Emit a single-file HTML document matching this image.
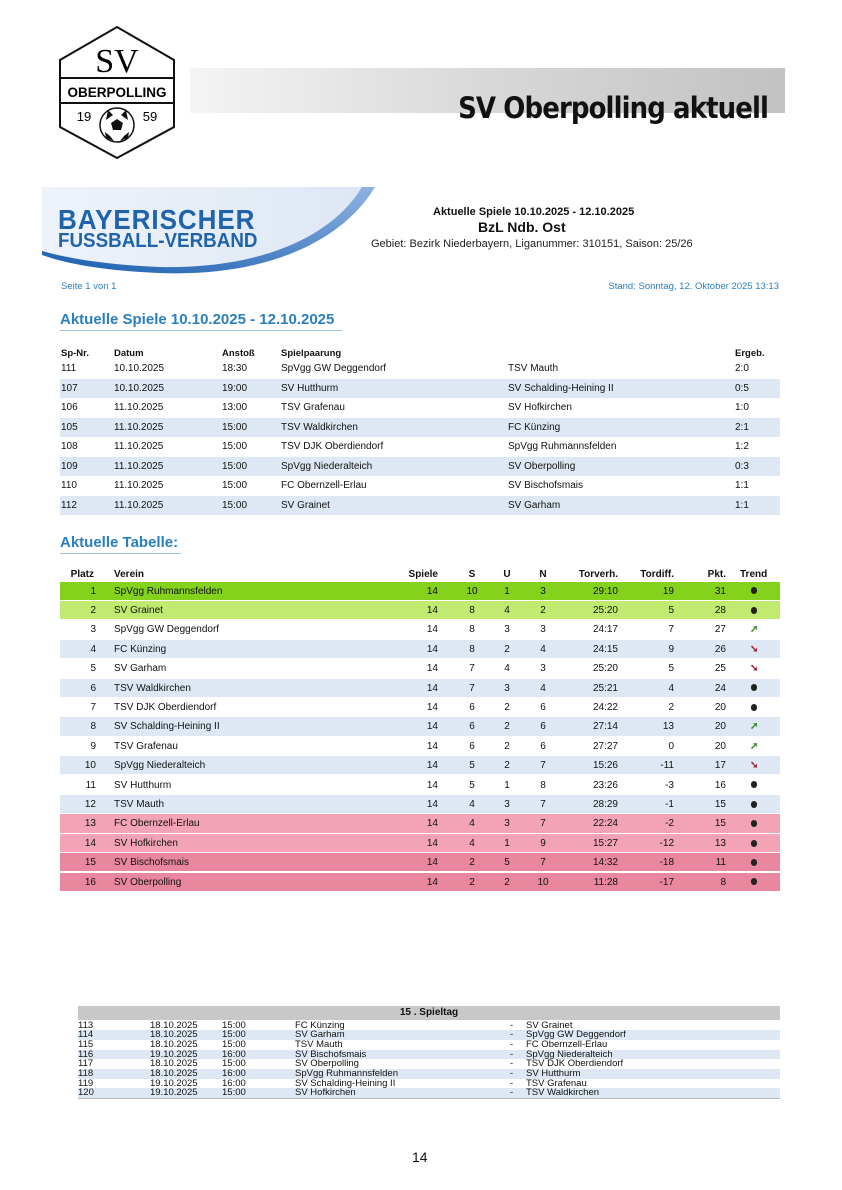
<!DOCTYPE html>
<html><head><meta charset="utf-8"><style>
*{margin:0;padding:0;box-sizing:border-box}
body{width:842px;height:1190px;background:#fff;font-family:"Liberation Sans",Arial,sans-serif;position:relative;overflow:hidden;color:#111}
.a{position:absolute;white-space:nowrap}
.r{position:absolute;left:60px;width:720px;font-size:10px;line-height:19px;height:19px}
.r span{position:absolute;top:0}
.s{background:#dde8f4}
.h{font-weight:bold;font-size:9.5px}
.t{position:absolute;left:60px;width:720px;font-size:10px;line-height:19.4px;height:19.4px;border-bottom:1px solid #fff}
.t span{position:absolute;top:0}
.p{right:684px;text-align:right}.v{left:54px}.sp{right:342px}.su{left:404px;width:16px;text-align:center}.uu{left:439px;width:16px;text-align:center}.nn{left:474px;width:18px;text-align:center}
.tv{right:162px}.td{right:106px}.pk{right:54px}.tr{left:690px;width:8px;text-align:center}
.dot{display:inline-block;width:6px;height:7px;border-radius:3px;background:#222;vertical-align:middle}
.up{color:#3a8a2a;font-weight:bold;font-size:10px}.dn{color:#a0202a;font-weight:bold;font-size:10px}
.b{position:absolute;left:78px;width:702px;font-size:9.5px;line-height:9.7px;height:9.7px}
.b span{position:absolute;top:0}
.bs{background:#dde8f4}
</style></head><body>
<svg class="a" style="left:56px;top:24px" width="122" height="136" viewBox="0 0 122 136">
<polygon points="61,3 118,36 118,103 61,134 4,103 4,36" fill="#fff" stroke="#111" stroke-width="2"/>
<line x1="4" y1="54" x2="118" y2="54" stroke="#111" stroke-width="2"/>
<line x1="4" y1="79" x2="118" y2="79" stroke="#111" stroke-width="2"/>
<text x="61" y="48" font-family="Liberation Serif" font-size="34" text-anchor="middle">SV</text>
<text x="61" y="73" font-family="Liberation Sans" font-weight="bold" font-size="13.5" text-anchor="middle">OBERPOLLING</text>
<text x="28" y="97" font-family="Liberation Sans" font-size="13" text-anchor="middle">19</text>
<text x="94" y="97" font-family="Liberation Sans" font-size="13" text-anchor="middle">59</text>
<circle cx="61" cy="101" r="17" fill="#fff" stroke="#111" stroke-width="1.5"/>
<polygon points="61,95 67,99 65,106 57,106 55,99" fill="#111"/>
<path d="M52,86 L57,91 L50,96Z M70,86 L65,91 L72,96Z M49,108 L54,112 L58,117 L50,114Z M73,108 L68,112 L64,117 L72,114Z" fill="#111"/>
</svg>
<div class="a" style="left:190px;top:68px;width:595px;height:45px;background:linear-gradient(90deg,#f4f4f4,#d8d8d8 50%,#c2c2c2)"></div>
<div class="a" style="right:74px;top:92px;font-family:'DejaVu Sans',sans-serif;font-size:26px;font-weight:bold;letter-spacing:-0.9px;color:#111;transform:scaleY(1.12);transform-origin:right top">SV Oberpolling aktuell</div>
<svg class="a" style="left:40px;top:185px" width="340" height="100" viewBox="0 0 340 100">
<defs><linearGradient id="g" x1="0" y1="0" x2="1" y2="0"><stop offset="0" stop-color="#eef3fa"/><stop offset="1" stop-color="#dde7f4"/></linearGradient>
<linearGradient id="g2" x1="0" y1="1" x2="1" y2="0"><stop offset="0" stop-color="#1a5fb0"/><stop offset="1" stop-color="#8fb3e0"/></linearGradient></defs>
<path d="M2,2 L335,2 C300,60 220,92 120,88 C70,86 30,80 2,70Z" fill="url(#g)"/>
<path d="M2,70 C30,80 70,86 120,88 C220,92 300,60 335,2 L322,2 C290,55 215,84 120,82 C70,80 30,74 2,66Z" fill="url(#g2)"/>
</svg>
<div class="a" style="left:58px;top:204px;font-size:28px;font-weight:bold;color:#1f63ad;letter-spacing:1px;transform:scaleX(0.93);transform-origin:left">BAYERISCHER</div>
<div class="a" style="left:58px;top:230px;font-size:20px;font-weight:bold;color:#1f63ad;transform:scaleX(0.94);transform-origin:left">FUSSBALL-VERBAND</div>
<div class="a" style="left:433px;top:206px;font-size:11px;font-weight:bold">Aktuelle Spiele 10.10.2025 - 12.10.2025</div>
<div class="a" style="left:478px;top:219px;font-size:14px;font-weight:bold">BzL Ndb. Ost</div>
<div class="a" style="left:371px;top:238px;font-size:11px;color:#222">Gebiet: Bezirk Niederbayern, Liganummer: 310151, Saison: 25/26</div>
<div class="a" style="left:61px;top:281px;font-size:9.5px;color:#2a7fc0">Seite 1 von 1</div>
<div class="a" style="right:63px;top:281px;font-size:9.5px;color:#2a7fc0">Stand: Sonntag, 12. Oktober 2025 13:13</div>
<div class="a" style="left:60px;top:311px;font-size:15px;font-weight:bold;color:#2a7fc0">Aktuelle Spiele 10.10.2025 - 12.10.2025</div>
<div class="a" style="left:60px;top:330px;width:282px;border-top:1px solid #9cc0e0"></div>

<div class="r h" style="top:344px"><span style="left:1px">Sp-Nr.</span><span style="left:54px">Datum</span><span style="left:162px">Anstoß</span><span style="left:221px">Spielpaarung</span><span style="left:675px">Ergeb.</span></div>
<div class="r" style="top:359px"><span style="left:1px">111</span><span style="left:54px">10.10.2025</span><span style="left:162px">18:30</span><span style="left:221px">SpVgg GW Deggendorf</span><span style="left:448px">TSV Mauth</span><span style="left:675px">2:0</span></div>
<div class="r s" style="top:378.5px"><span style="left:1px">107</span><span style="left:54px">10.10.2025</span><span style="left:162px">19:00</span><span style="left:221px">SV Hutthurm</span><span style="left:448px">SV Schalding-Heining II</span><span style="left:675px">0:5</span></div>
<div class="r" style="top:398px"><span style="left:1px">106</span><span style="left:54px">11.10.2025</span><span style="left:162px">13:00</span><span style="left:221px">TSV Grafenau</span><span style="left:448px">SV Hofkirchen</span><span style="left:675px">1:0</span></div>
<div class="r s" style="top:417.5px"><span style="left:1px">105</span><span style="left:54px">11.10.2025</span><span style="left:162px">15:00</span><span style="left:221px">TSV Waldkirchen</span><span style="left:448px">FC Künzing</span><span style="left:675px">2:1</span></div>
<div class="r" style="top:437px"><span style="left:1px">108</span><span style="left:54px">11.10.2025</span><span style="left:162px">15:00</span><span style="left:221px">TSV DJK Oberdiendorf</span><span style="left:448px">SpVgg Ruhmannsfelden</span><span style="left:675px">1:2</span></div>
<div class="r s" style="top:456.5px"><span style="left:1px">109</span><span style="left:54px">11.10.2025</span><span style="left:162px">15:00</span><span style="left:221px">SpVgg Niederalteich</span><span style="left:448px">SV Oberpolling</span><span style="left:675px">0:3</span></div>
<div class="r" style="top:476px"><span style="left:1px">110</span><span style="left:54px">11.10.2025</span><span style="left:162px">15:00</span><span style="left:221px">FC Obernzell-Erlau</span><span style="left:448px">SV Bischofsmais</span><span style="left:675px">1:1</span></div>
<div class="r s" style="top:495.5px"><span style="left:1px">112</span><span style="left:54px">11.10.2025</span><span style="left:162px">15:00</span><span style="left:221px">SV Grainet</span><span style="left:448px">SV Garham</span><span style="left:675px">1:1</span></div>

<div class="a" style="left:60px;top:534px;font-size:15px;font-weight:bold;color:#2a7fc0">Aktuelle Tabelle:</div>
<div class="a" style="left:60px;top:553px;width:121px;border-top:1px solid #9cc0e0"></div>

<div class="t h" style="top:565px"><span class="p" style="right:686px">Platz</span><span class="v">Verein</span><span class="sp">Spiele</span><span class="su">S</span><span class="uu">U</span><span class="nn">N</span><span class="tv">Torverh.</span><span class="td">Tordiff.</span><span class="pk">Pkt.</span><span style="left:680px">Trend</span></div>
<div class="t" style="top:581.5px;background:#84d21c"><span class="p">1</span><span class="v">SpVgg Ruhmannsfelden</span><span class="sp">14</span><span class="su">10</span><span class="uu">1</span><span class="nn">3</span><span class="tv">29:10</span><span class="td">19</span><span class="pk">31</span><span class="tr"><i class="dot"></i></span></div>
<div class="t" style="top:600.9px;background:#c0ea70"><span class="p">2</span><span class="v">SV Grainet</span><span class="sp">14</span><span class="su">8</span><span class="uu">4</span><span class="nn">2</span><span class="tv">25:20</span><span class="td">5</span><span class="pk">28</span><span class="tr"><i class="dot"></i></span></div>
<div class="t" style="top:620.3px"><span class="p">3</span><span class="v">SpVgg GW Deggendorf</span><span class="sp">14</span><span class="su">8</span><span class="uu">3</span><span class="nn">3</span><span class="tv">24:17</span><span class="td">7</span><span class="pk">27</span><span class="tr up">➚</span></div>
<div class="t s" style="top:639.7px"><span class="p">4</span><span class="v">FC Künzing</span><span class="sp">14</span><span class="su">8</span><span class="uu">2</span><span class="nn">4</span><span class="tv">24:15</span><span class="td">9</span><span class="pk">26</span><span class="tr dn">➘</span></div>
<div class="t" style="top:659.1px"><span class="p">5</span><span class="v">SV Garham</span><span class="sp">14</span><span class="su">7</span><span class="uu">4</span><span class="nn">3</span><span class="tv">25:20</span><span class="td">5</span><span class="pk">25</span><span class="tr dn">➘</span></div>
<div class="t s" style="top:678.5px"><span class="p">6</span><span class="v">TSV Waldkirchen</span><span class="sp">14</span><span class="su">7</span><span class="uu">3</span><span class="nn">4</span><span class="tv">25:21</span><span class="td">4</span><span class="pk">24</span><span class="tr"><i class="dot"></i></span></div>
<div class="t" style="top:697.9px"><span class="p">7</span><span class="v">TSV DJK Oberdiendorf</span><span class="sp">14</span><span class="su">6</span><span class="uu">2</span><span class="nn">6</span><span class="tv">24:22</span><span class="td">2</span><span class="pk">20</span><span class="tr"><i class="dot"></i></span></div>
<div class="t s" style="top:717.3px"><span class="p">8</span><span class="v">SV Schalding-Heining II</span><span class="sp">14</span><span class="su">6</span><span class="uu">2</span><span class="nn">6</span><span class="tv">27:14</span><span class="td">13</span><span class="pk">20</span><span class="tr up">➚</span></div>
<div class="t" style="top:736.7px"><span class="p">9</span><span class="v">TSV Grafenau</span><span class="sp">14</span><span class="su">6</span><span class="uu">2</span><span class="nn">6</span><span class="tv">27:27</span><span class="td">0</span><span class="pk">20</span><span class="tr up">➚</span></div>
<div class="t s" style="top:756.1px"><span class="p">10</span><span class="v">SpVgg Niederalteich</span><span class="sp">14</span><span class="su">5</span><span class="uu">2</span><span class="nn">7</span><span class="tv">15:26</span><span class="td">-11</span><span class="pk">17</span><span class="tr dn">➘</span></div>
<div class="t" style="top:775.5px"><span class="p">11</span><span class="v">SV Hutthurm</span><span class="sp">14</span><span class="su">5</span><span class="uu">1</span><span class="nn">8</span><span class="tv">23:26</span><span class="td">-3</span><span class="pk">16</span><span class="tr"><i class="dot"></i></span></div>
<div class="t s" style="top:794.9px"><span class="p">12</span><span class="v">TSV Mauth</span><span class="sp">14</span><span class="su">4</span><span class="uu">3</span><span class="nn">7</span><span class="tv">28:29</span><span class="td">-1</span><span class="pk">15</span><span class="tr"><i class="dot"></i></span></div>
<div class="t" style="top:814.3px;background:#f2a3b5"><span class="p">13</span><span class="v">FC Obernzell-Erlau</span><span class="sp">14</span><span class="su">4</span><span class="uu">3</span><span class="nn">7</span><span class="tv">22:24</span><span class="td">-2</span><span class="pk">15</span><span class="tr"><i class="dot"></i></span></div>
<div class="t" style="top:833.7px;background:#f2a3b5"><span class="p">14</span><span class="v">SV Hofkirchen</span><span class="sp">14</span><span class="su">4</span><span class="uu">1</span><span class="nn">9</span><span class="tv">15:27</span><span class="td">-12</span><span class="pk">13</span><span class="tr"><i class="dot"></i></span></div>
<div class="t" style="top:853.1px;background:#e8879d"><span class="p">15</span><span class="v">SV Bischofsmais</span><span class="sp">14</span><span class="su">2</span><span class="uu">5</span><span class="nn">7</span><span class="tv">14:32</span><span class="td">-18</span><span class="pk">11</span><span class="tr"><i class="dot"></i></span></div>
<div class="t" style="top:872.5px;background:#e8879d"><span class="p">16</span><span class="v">SV Oberpolling</span><span class="sp">14</span><span class="su">2</span><span class="uu">2</span><span class="nn">10</span><span class="tv">11:28</span><span class="td">-17</span><span class="pk">8</span><span class="tr"><i class="dot"></i></span></div>

<div class="a" style="left:78px;top:1006px;width:702px;height:14px;background:#c8c8c8;font-size:10px;font-weight:bold;text-align:center;line-height:14px">15 . Spieltag</div>
<div class="b" style="top:1020.5px"><span style="left:0">113</span><span style="left:72px">18.10.2025</span><span style="left:144px">15:00</span><span style="left:217px">FC Künzing</span><span style="left:432px">-</span><span style="left:448px">SV Grainet</span></div>
<div class="b bs" style="top:1030.2px"><span style="left:0">114</span><span style="left:72px">18.10.2025</span><span style="left:144px">15:00</span><span style="left:217px">SV Garham</span><span style="left:432px">-</span><span style="left:448px">SpVgg GW Deggendorf</span></div>
<div class="b" style="top:1039.9px"><span style="left:0">115</span><span style="left:72px">18.10.2025</span><span style="left:144px">15:00</span><span style="left:217px">TSV Mauth</span><span style="left:432px">-</span><span style="left:448px">FC Obernzell-Erlau</span></div>
<div class="b bs" style="top:1049.6px"><span style="left:0">116</span><span style="left:72px">19.10.2025</span><span style="left:144px">16:00</span><span style="left:217px">SV Bischofsmais</span><span style="left:432px">-</span><span style="left:448px">SpVgg Niederalteich</span></div>
<div class="b" style="top:1059.3px"><span style="left:0">117</span><span style="left:72px">18.10.2025</span><span style="left:144px">15:00</span><span style="left:217px">SV Oberpolling</span><span style="left:432px">-</span><span style="left:448px">TSV DJK Oberdiendorf</span></div>
<div class="b bs" style="top:1069px"><span style="left:0">118</span><span style="left:72px">18.10.2025</span><span style="left:144px">16:00</span><span style="left:217px">SpVgg Ruhmannsfelden</span><span style="left:432px">-</span><span style="left:448px">SV Hutthurm</span></div>
<div class="b" style="top:1078.7px"><span style="left:0">119</span><span style="left:72px">19.10.2025</span><span style="left:144px">16:00</span><span style="left:217px">SV Schalding-Heining II</span><span style="left:432px">-</span><span style="left:448px">TSV Grafenau</span></div>
<div class="b bs" style="top:1088.4px"><span style="left:0">120</span><span style="left:72px">19.10.2025</span><span style="left:144px">15:00</span><span style="left:217px">SV Hofkirchen</span><span style="left:432px">-</span><span style="left:448px">TSV Waldkirchen</span></div>
<div class="a" style="left:78px;top:1098px;width:702px;border-top:1px solid #bbb"></div>

<div class="a" style="left:412px;top:1149px;font-size:14px">14</div>
</body></html>
